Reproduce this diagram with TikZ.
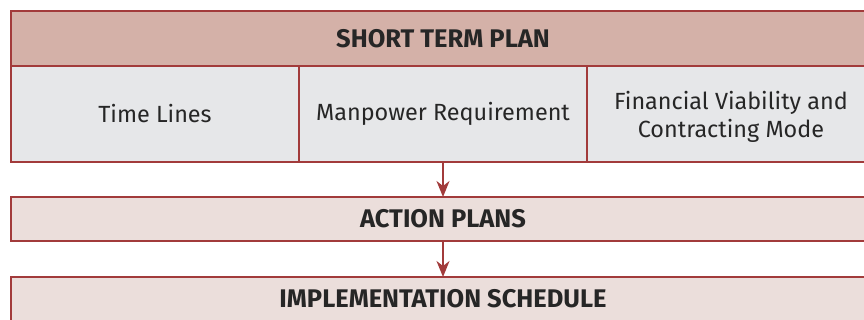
\documentclass[tikz,border=0pt]{standalone}
\usepackage{fontspec}
\setmainfont{Fira Sans}
\usetikzlibrary{positioning, arrows.meta}

\definecolor{planred}{HTML}{A23B3B}
\definecolor{planhead}{HTML}{D4B1A8}
\definecolor{plangrey}{HTML}{E6E7E9}
\definecolor{planpink}{HTML}{EBDEDB}

\begin{document}
\begin{tikzpicture}
                [x=1pt, y=1pt,
                every node/.style={draw=planred, line width=1.3pt, outer sep=0pt, inner sep=0pt,
                    font=\fontsize{23.4}{28}\selectfont, text=black!85, align=center},
                headbox/.style={fill=planhead, minimum width=864pt, minimum height=55pt, font=\fontsize{25.5}{28}\selectfont\bfseries},
                cellbox/.style={fill=plangrey, minimum width=288pt, minimum height=96pt},
                stagebox/.style={fill=planpink, minimum width=864pt, minimum height=44pt, font=\fontsize{25.5}{28}\selectfont\bfseries},
                flow/.style={draw=planred, line width=1.6pt, -{Stealth[length=16pt, width=13pt, inset=5pt]}}]
                \useasboundingbox (0,0) rectangle (864,-320);
                \node[headbox, anchor=north west] (head) at (11,-11) {SHORT TERM PLAN};
                \node[cellbox, anchor=north west] (time) at (head.south west) {Time Lines};
                \node[cellbox, right=0pt of time] (manpower) {Manpower Requirement};
                \node[cellbox, right=0pt of manpower, text depth=0pt] (finance) {Financial Viability and\\Contracting Mode};
                \node[stagebox, below=35pt of manpower] (action) {ACTION PLANS};
                \node[stagebox, below=36pt of action] (schedule) {IMPLEMENTATION SCHEDULE};
                \draw[flow] (manpower) -- (action);
                \draw[flow] (action) -- (schedule);
            \end{tikzpicture}
\end{document}
